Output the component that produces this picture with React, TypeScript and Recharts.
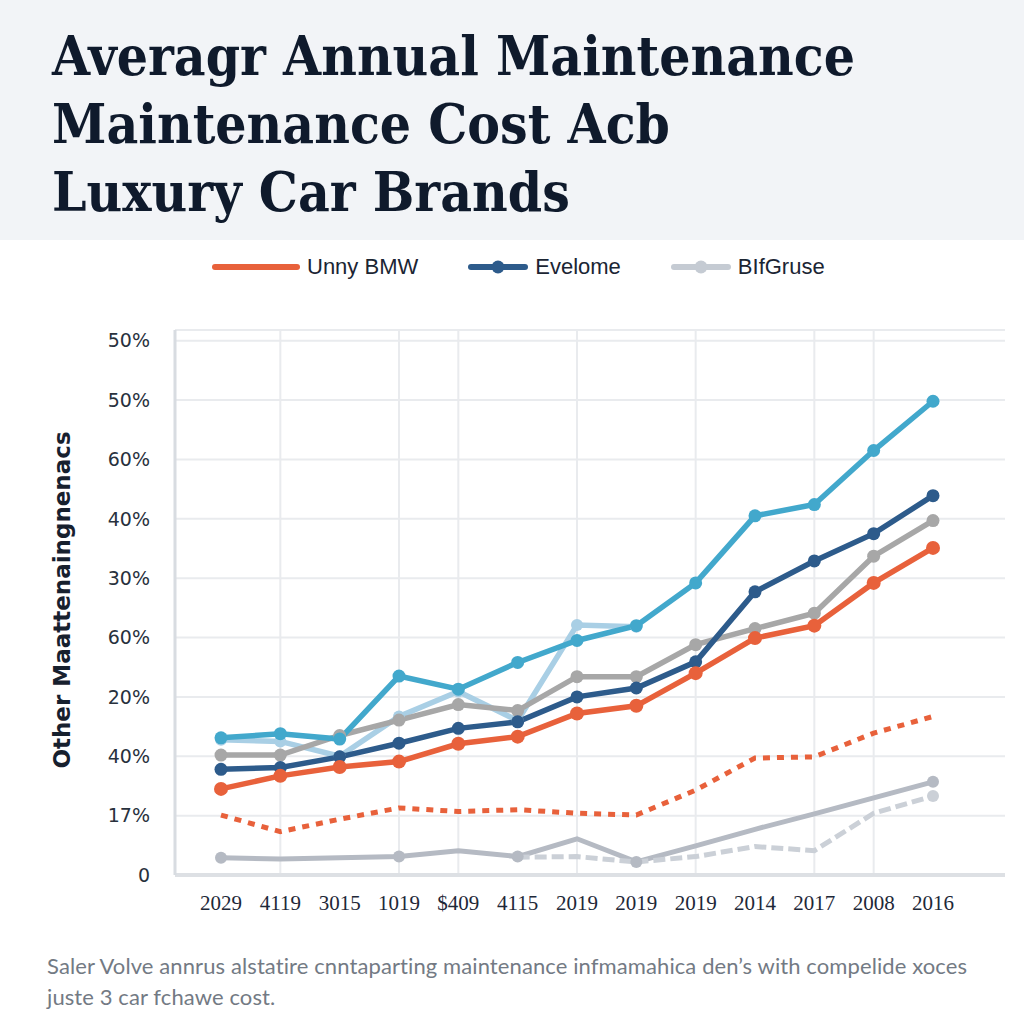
import React from "react";
import { CartesianGrid, Line, LineChart, ReferenceLine, XAxis, YAxis } from "recharts";

// Values, in y-grid units (0 = bottom gridline, 9 = top).
const categories = ["2029", "4119", "3015", "1019", "$409", "4115", "2019", "2019", "2019", "2014", "2017", "2008", "2016"];
const yTickLabels = ["0", "17%", "40%", "20%", "60%", "30%", "40%", "60%", "50%", "50%"];

const teal = [2.31, 2.38, 2.29, 3.35, 3.13, 3.58, 3.95, 4.2, 4.92, 6.05, 6.24, 7.15, 7.98];
const navy = [1.78, 1.81, 1.99, 2.22, 2.47, 2.58, 3.0, 3.15, 3.59, 4.77, 5.29, 5.75, 6.39];
const gray = [2.02, 2.02, 2.35, 2.61, 2.87, 2.77, 3.34, 3.34, 3.88, 4.15, 4.41, 5.37, 5.97];
const orange = [1.45, 1.67, 1.82, 1.91, 2.21, 2.33, 2.72, 2.85, 3.4, 3.99, 4.2, 4.92, 5.51];
const pale = [2.28, 2.25, 2.0, 2.67, 3.09, 2.6, 4.21, 4.18, null, null, null, null, null];
const orangeDash = [1.01, 0.73, 0.94, 1.13, 1.07, 1.1, 1.04, 1.01, 1.43, 1.97, 1.99, 2.39, 2.67];
const grayLow = [0.29, 0.27, 0.29, 0.31, 0.41, 0.31, 0.61, 0.22, 0.49, 0.77, 1.03, 1.3, 1.57];
const grayLowDash = [null, null, null, null, null, 0.3, 0.31, 0.22, 0.31, 0.48, 0.41, 1.04, 1.33];

const grayLowMarked = [0, 3, 5, 7, 12];
const gridColumns = [1, 3, 4, 6, 8, 10, 11];

const titleLines = ["Averagr Annual Maintenance", "Maintenance Cost Acb", "Luxury Car Brands"];
const legendItems = [
  { label: "Unny BMW", color: "#e8613b", dot: false },
  { label: "Evelome", color: "#2d5b8b", dot: true },
  { label: "BIfGruse", color: "#c5cbd3", dot: true },
];
const yAxisTitle = "Other Maattenaingnenacs";
const captionLines = [
  "Saler Volve annrus alstatire cnntaparting maintenance infmamahica den\u2019s with compelide xoces",
  "juste 3 car fchawe cost.",
];

const data = categories.map((label, i) => ({
  idx: i,
  label,
  teal: teal[i],
  navy: navy[i],
  gray: gray[i],
  orange: orange[i],
  pale: pale[i],
  orangeDash: orangeDash[i],
  grayLow: grayLow[i],
  grayLowDash: grayLowDash[i],
}));

function markedDot(color: string, marked: number[] | null, r: number) {
  return (props: any) => {
    const { cx, cy, index } = props;
    if (cx == null || cy == null || (marked && !marked.includes(index))) {
      return <g key={`d${index}`} />;
    }
    return <circle key={`d${index}`} cx={cx} cy={cy} r={r} fill={color} stroke="none" />;
  };
}

export default function App() {
  return (
    <div
      style={{
        position: "absolute",
        left: 0,
        top: 0,
        width: 1024,
        height: 1024,
        background: "#ffffff",
        overflow: "hidden",
      }}
    >
      <div style={{ height: 240, background: "#f2f4f7", paddingTop: 22, paddingLeft: 52, boxSizing: "border-box" }}>
        <div
          style={{
            transform: "scaleX(0.91)",
            transformOrigin: "0 0",
            fontFamily: "'DejaVu Serif', serif",
            fontWeight: 700,
            fontSize: 54,
            lineHeight: "68px",
            color: "#0f1a2c",
            whiteSpace: "nowrap",
          }}
        >
          {titleLines.map((t) => (
            <div key={t}>{t}</div>
          ))}
        </div>
      </div>

      <div
        style={{
          position: "absolute",
          top: 252,
          left: 212,
          display: "flex",
          alignItems: "center",
          gap: 50,
          fontFamily: "'Liberation Sans', Arial, sans-serif",
          fontSize: 22,
          color: "#1b2533",
        }}
      >
        {legendItems.map((it) => (
          <div key={it.label} style={{ display: "flex", alignItems: "center", gap: 7 }}>
            <svg width={it.dot ? 60 : 88} height={30}>
              <line
                x1={3}
                y1={15}
                x2={it.dot ? 57 : 85}
                y2={15}
                stroke={it.color}
                strokeWidth={6}
                strokeLinecap="round"
              />
              {it.dot && <circle cx={30} cy={15} r={6.5} fill={it.color} />}
            </svg>
            <span>{it.label}</span>
          </div>
        ))}
      </div>

      <div
        style={{
          position: "absolute",
          left: 62,
          top: 600,
          transform: "translate(-50%, -50%) rotate(-90deg)",
          whiteSpace: "nowrap",
          fontFamily: "'DejaVu Sans', sans-serif",
          fontWeight: 700,
          fontSize: 23,
          color: "#17202e",
        }}
      >
        {yAxisTitle}
      </div>

      <div style={{ position: "absolute", left: 0, top: 300 }}>
        <LineChart width={1024} height={620} data={data} margin={{ top: 30, right: 19, bottom: 0, left: 0 }}>
          <CartesianGrid vertical={false} stroke="#e9ebee" strokeWidth={2} />
          {gridColumns.map((c) => (
            <ReferenceLine key={c} x={c} stroke="#e9ebee" strokeWidth={2} />
          ))}
          <XAxis
            dataKey="idx"
            type="number"
            domain={[0, 12]}
            ticks={categories.map((_, i) => i)}
            tickFormatter={(v: number) => categories[v]}
            padding={{ left: 46, right: 72 }}
            height={45}
            axisLine={{ stroke: "#dde0e4", strokeWidth: 4 }}
            tickLine={false}
            tickMargin={14}
            tick={{ fontFamily: "'Liberation Serif', serif", fontSize: 21, fill: "#1e2838" }}
          />
          <YAxis
            type="number"
            domain={[0, 9.18]}
            ticks={yTickLabels.map((_, i) => i)}
            tickFormatter={(v: number) => yTickLabels[v]}
            width={175}
            axisLine={{ stroke: "#d8dce1", strokeWidth: 3 }}
            tickLine={false}
            tickMargin={19}
            tick={{ fontFamily: "'DejaVu Sans', sans-serif", fontSize: 19, fill: "#28313d" }}
          />
          <Line
            dataKey="grayLow"
            stroke="#b5bac3"
            strokeWidth={5}
            dot={markedDot("#b5bac3", grayLowMarked, 6)}
            isAnimationActive={false}
          />
          <Line
            dataKey="grayLowDash"
            stroke="#cbd0d7"
            strokeWidth={5}
            strokeDasharray="12 5"
            dot={markedDot("#cbd0d7", [12], 6)}
            isAnimationActive={false}
          />
          <Line
            dataKey="orangeDash"
            stroke="#e8613b"
            strokeWidth={5}
            strokeDasharray="7 7"
            dot={false}
            isAnimationActive={false}
          />
          <Line
            dataKey="pale"
            stroke="#a9cfe5"
            strokeWidth={5.5}
            dot={markedDot("#a9cfe5", null, 6)}
            isAnimationActive={false}
          />
          <Line
            dataKey="gray"
            stroke="#a7a7a7"
            strokeWidth={5.5}
            dot={markedDot("#a7a7a7", null, 6.5)}
            isAnimationActive={false}
          />
          <Line
            dataKey="teal"
            stroke="#42a8cc"
            strokeWidth={5.5}
            dot={markedDot("#42a8cc", null, 6.5)}
            isAnimationActive={false}
          />
          <Line
            dataKey="navy"
            stroke="#2d5b8b"
            strokeWidth={5.5}
            dot={markedDot("#2d5b8b", null, 6.5)}
            isAnimationActive={false}
          />
          <Line
            dataKey="orange"
            stroke="#e8613b"
            strokeWidth={5.5}
            dot={markedDot("#e8613b", null, 7)}
            isAnimationActive={false}
          />
        </LineChart>
      </div>

      <div
        style={{
          position: "absolute",
          left: 47,
          top: 950,
          fontFamily: "Lato, sans-serif",
          fontSize: 22,
          lineHeight: "31px",
          letterSpacing: 0.1,
          color: "#737a84",
          whiteSpace: "nowrap",
        }}
      >
        {captionLines.map((t) => (
          <div key={t}>{t}</div>
        ))}
      </div>
    </div>
  );
}
